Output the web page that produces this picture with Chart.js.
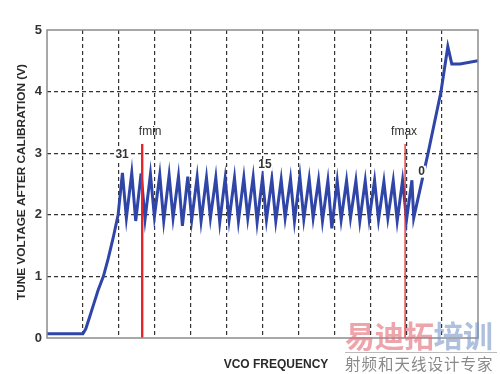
<!DOCTYPE html>
<html>
<head>
<meta charset="utf-8">
<script src="https://cdn.jsdelivr.net/npm/chart.js@4.4.0/dist/chart.umd.min.js"></script>
<style>
body { margin: 0; background: #fff; }
#wrap { position: relative; width: 500px; height: 374px; overflow: hidden; }
#wm1 { position: absolute; left: 345px; top: 314px; font-family: "Noto Sans CJK SC"; font-weight: 700; font-size: 30px; line-height: 40px; letter-spacing: -0.5px; white-space: nowrap; }
#wm1 .a { color: rgba(226, 110, 120, 0.62); }
#wm1 .b { color: rgba(120, 150, 200, 0.6); }
#wm2 { position: absolute; left: 345px; top: 352px; width: 152px; border-top: 1px solid #bbb; font-family: "Noto Sans CJK SC"; font-size: 15.5px; line-height: 20px; color: #8a8a8a; white-space: nowrap; letter-spacing: 1px; }
</style>
</head>
<body>
<div id="wrap">
  <canvas id="myGraph" width="500" height="374"></canvas>
  <div id="wm1"><span class="a">易迪拓</span><span class="b">培训</span></div>
  <div id="wm2">射频和天线设计专家</div>
</div>
<script>
/* DATOS (x = frecuencia VCO en divisiones de grilla, y = voltios) */
const rampX = [0, 1.0, 1.08, 1.18, 1.3, 1.42, 1.57, 1.7, 1.84, 1.98];
const rampY = [0.07, 0.07, 0.15, 0.33, 0.55, 0.77, 1.0, 1.28, 1.62, 2.0];

const peakX = [2.10, 2.36, 2.62, 2.88, 3.14, 3.40, 3.66, 3.92, 4.18, 4.44, 4.70, 4.96, 5.22, 5.48, 5.74, 6.00,
               6.26, 6.52, 6.78, 7.04, 7.30, 7.56, 7.82, 8.08, 8.34, 8.60, 8.86, 9.12, 9.38, 9.64, 9.90, 10.16];
const peakY = [2.68, 2.68, 2.67, 2.66, 2.65, 2.64, 2.62, 2.62, 2.61, 2.60, 2.60, 2.59, 2.60, 2.60, 2.61, 2.60,
               2.58, 2.57, 2.58, 2.62, 2.58, 2.56, 2.55, 2.55, 2.55, 2.55, 2.55, 2.56, 2.54, 2.55, 2.56, 2.56];
const troughX = [2.21, 2.47, 2.73, 2.99, 3.25, 3.51, 3.77, 4.03, 4.29, 4.55, 4.81, 5.07, 5.33, 5.59, 5.85, 6.11,
                 6.37, 6.63, 6.89, 7.15, 7.41, 7.67, 7.93, 8.19, 8.45, 8.71, 8.97, 9.23, 9.49, 9.75, 10.01, 10.21];
const troughY = [1.95, 1.90, 1.93, 1.97, 1.90, 1.95, 1.82, 1.92, 1.90, 1.95, 1.88, 1.92, 1.90, 1.95, 1.88, 1.92,
                 1.90, 1.95, 1.90, 1.93, 1.95, 1.90, 1.78, 1.92, 1.95, 1.90, 1.93, 1.92, 1.95, 1.90, 1.92, 1.95];

const tailX = [10.61, 10.97, 11.16, 11.27, 11.5, 12];
const tailY = [3.0, 4.0, 4.73, 4.45, 4.45, 4.5];

/* MARCADORES fmin / fmax */
const markerNames = ["fmin", "fmax"];
const markerX = [2.65, 9.97];
const markerTop = [3.15, 3.15];

/* ETIQUETAS DE BANDA */
const bandLabels = ["31", "15", "0"];
const bandX = [2.09, 6.07, 10.43];
const bandY = [2.97, 2.81, 2.70];

const yTitle = "TUNE VOLTAGE AFTER CALIBRATION (V)";
const xTitle = "VCO FREQUENCY";

/* ARMAMOS LA SERIE */
const curve = [];
rampX.forEach((x, i) => curve.push({ x: x, y: rampY[i] }));
peakX.forEach((x, i) => {
  curve.push({ x: x, y: peakY[i] });
  curve.push({ x: troughX[i], y: troughY[i] });
});
tailX.forEach((x, i) => curve.push({ x: x, y: tailY[i] }));

const blue = "#2f45a8";
const red = "#e8242a";
const gridColor = "#333";

/* PLUGIN PARA MARCO Y TEXTOS */
const textPlugin = {
  id: "texts",
  afterDatasetsDraw(chart) {
    const ctx = chart.ctx;
    const a = chart.chartArea;
    const xs = chart.scales.x;
    const ys = chart.scales.y;
    ctx.save();
    // marco
    ctx.strokeStyle = "#8c8c8c";
    ctx.lineWidth = 1.5;
    ctx.strokeRect(a.left, a.top, a.right - a.left, a.bottom - a.top);
    // fmin / fmax
    ctx.fillStyle = "#333";
    ctx.font = "12px 'Liberation Sans', Arial, sans-serif";
    ctx.textAlign = "center";
    ctx.textBaseline = "middle";
    markerNames.forEach((n, i) => {
      ctx.fillText(n, xs.getPixelForValue(markerX[i]) + (i === 0 ? 8 : -1), ys.getPixelForValue(markerTop[i]) - 12);
    });
    // bandas
    ctx.font = "bold 12px 'Liberation Sans', Arial, sans-serif";
    bandLabels.forEach((b, i) => {
      const px = xs.getPixelForValue(bandX[i]);
      const py = ys.getPixelForValue(bandY[i]);
      const w = ctx.measureText(b).width;
      ctx.fillStyle = "#fff";
      ctx.fillRect(px - w / 2 - 1, py - 6, w + 2, 12);
      ctx.fillStyle = "#333";
      ctx.fillText(b, px, py);
    });
    // titulos
    ctx.font = "bold 12px 'Liberation Sans', Arial, sans-serif";
    ctx.fillStyle = "#2a2a2a";
    ctx.fillText(xTitle, 276, 365);
    ctx.font = "bold 11.8px 'Liberation Sans', Arial, sans-serif";
    ctx.translate(22, (a.top + a.bottom) / 2 - 2);
    ctx.rotate(-Math.PI / 2);
    ctx.fillText(yTitle, 0, 0);
    ctx.restore();
  }
};

/* CONFIGURACION */
const config = {
  type: "line",
  data: {
    datasets: [
      {
        data: curve,
        borderColor: blue,
        borderWidth: 3,
        pointRadius: 0,
        tension: 0,
        order: 2
      },
      {
        data: [{ x: markerX[0], y: 0 }, { x: markerX[0], y: markerTop[0] }],
        borderColor: red,
        borderWidth: 2.4,
        pointRadius: 0,
        order: 1
      },
      {
        data: [{ x: markerX[1], y: 0 }, { x: markerX[1], y: markerTop[1] }],
        borderColor: red,
        borderWidth: 1.3,
        pointRadius: 0,
        order: 1
      }
    ]
  },
  options: {
    responsive: false,
    animation: false,
    devicePixelRatio: 1,
    layout: { padding: { top: 30, right: 22, left: 0, bottom: 0 } },
    plugins: {
      legend: { display: false },
      tooltip: { enabled: false }
    },
    scales: {
      x: {
        type: "linear",
        min: 0,
        max: 12,
        afterFit(scale) { scale.height = 36; },
        ticks: { display: false, stepSize: 1 },
        grid: {
          drawTicks: false,
          lineWidth: 1.2,
          color: (c) => (c.tick && (c.tick.value === 0 || c.tick.value === 12)) ? "rgba(0,0,0,0)" : gridColor
        },
        border: { display: false, dash: [4, 3] }
      },
      y: {
        min: 0,
        max: 5,
        afterFit(scale) { scale.width = 47; },
        ticks: {
          stepSize: 1,
          padding: 5,
          color: "#333",
          font: { family: "'Liberation Sans', Arial, sans-serif", size: 13, weight: "bold" }
        },
        grid: {
          drawTicks: false,
          lineWidth: 1.2,
          color: (c) => (c.tick && (c.tick.value === 0 || c.tick.value === 5)) ? "rgba(0,0,0,0)" : gridColor
        },
        border: { display: false, dash: [4, 3] }
      }
    }
  },
  plugins: [textPlugin]
};

const chart = new Chart(document.getElementById("myGraph"), config);
</script>
</body>
</html>
